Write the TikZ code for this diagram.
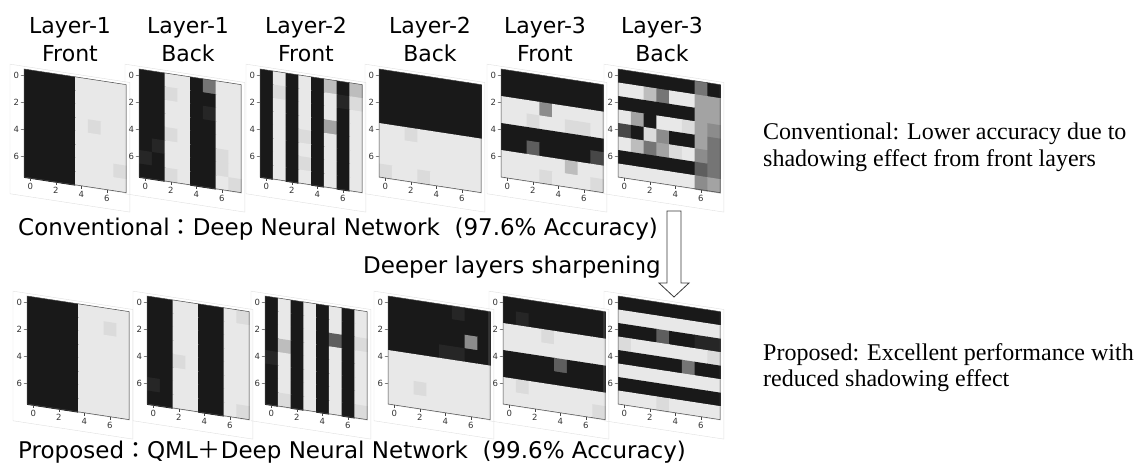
\documentclass[tikz,border=0pt]{standalone}
\usepackage{fontspec}
\setmainfont{Liberation Serif}
\setsansfont{DejaVu Sans}
\newfontfamily\cjk{Noto Sans CJK JP}
\tikzset{
  frame/.style={draw=gray!25,line width=.4pt},
  spine/.style={draw=gray!55!black,line width=.5pt},
  ticklabel/.style={font=\sffamily\fontsize{8.5}{9}\selectfont,text=gray!40!black,inner sep=0pt},
  toplabel/.style={font=\sffamily\fontsize{22}{28}\selectfont,align=center,anchor=north,inner sep=0pt},
  caption/.style={font=\sffamily\fontsize{23}{26}\selectfont,anchor=base west,inner sep=0pt},
  note/.style={font=\rmfamily\fontsize{24}{26.5}\selectfont,align=left,anchor=north west,inner sep=0pt},
  hollow/.style={draw=gray!45!black,fill=white,line width=.8pt,line join=miter}
}
\newcommand{\heatmap}[4]{%
  \begin{scope}[shift={(#2,#3)},x={(12.75pt,-1.95pt)},y={(0pt,-13.5pt)}]
    \draw[frame] (-1.1,-.2) -- (8.3,-.2) -- (8.3,9.4) -- (-1.1,9.4) -- cycle;
    \foreach \r [count=\j from 0] in {#4} {
      \foreach \d [count=\i from 0] in \r {
        \pgfmathtruncatemacro\p{{10,15,28,37,46,55,64,74,86,91}[\d]}
        \fill[white!\p!black] (\i,\j) -- ++(1.06,0) -- ++(0,1.06) -- ++(-1.06,0) -- cycle;
      }
    }
    \draw[spine] (0,0) -- (8,0) -- (8,8) -- (0,8) -- cycle;
    \foreach \t in {0,2,4,6} {
      \draw[spine] (0,\t+.5) -- (-.25,\t+.5) node[ticklabel,left=1.5pt] (#1-y\t) {\t};
      \draw[spine] (\t+.5,8) -- (\t+.5,8.25) node[ticklabel,below=2pt] (#1-x\t) {\t};
    }
  \end{scope}}
\begin{document}
\begin{tikzpicture}[x=1pt,y=-1pt]
\useasboundingbox (0,0) rectangle (1137,466);

\node[toplabel] (t1) at (70,17) {Layer-1\\Front};
\node[toplabel] (t2) at (188,17) {Layer-1\\Back};
\node[toplabel] (t3) at (306,17) {Layer-2\\Front};
\node[toplabel] (t4) at (430,17) {Layer-2\\Back};
\node[toplabel] (t5) at (545,17) {Layer-3\\Front};
\node[toplabel] (t6) at (662,17) {Layer-3\\Back};

% conventional
\heatmap{c1}{24}{69}{{0,0,0,0,9,9,9,9},{0,0,0,0,9,9,9,9},{0,0,0,0,9,9,9,9},{0,0,0,0,9,8,9,9},
  {0,0,0,0,9,9,9,9},{0,0,0,0,9,9,9,9},{0,0,0,0,9,9,9,8},{0,0,0,0,9,9,9,9}}
\heatmap{c2}{139}{69}{{0,0,9,9,0,4,9,9},{0,0,8,9,0,0,9,9},{0,0,9,9,0,1,9,9},{0,0,9,9,0,0,9,9},
  {0,0,8,9,0,0,9,9},{0,1,9,9,0,0,8,9},{1,0,9,9,0,0,8,9},{0,0,8,9,0,0,9,8}}
\heatmap{c3}{260}{69}{{0,9,0,9,0,7,0,7},{0,8,0,9,0,9,1,8},{0,9,0,9,0,9,0,9},{0,9,0,9,0,6,0,9},
  {0,9,0,8,0,9,0,9},{0,9,0,9,0,9,0,9},{0,9,0,8,0,9,0,9},{0,9,0,9,0,9,0,9}}
\heatmap{c4}{379}{69}{{0,0,0,0,0,0,0,0},{0,0,0,0,0,0,0,0},{0,0,0,0,0,0,0,0},{0,0,0,0,0,0,0,0},
  {9,9,8,9,9,9,9,9},{9,9,9,9,9,9,9,9},{9,9,9,9,9,9,9,9},{8,9,9,8,9,9,9,9}}
\heatmap{c5}{501}{69}{{0,0,0,0,0,0,0,0},{0,0,0,0,0,0,0,0},{9,9,9,5,9,9,9,9},{9,9,8,9,9,8,8,9},
  {0,0,0,0,0,0,0,0},{0,0,3,0,0,0,0,2},{9,9,9,9,9,7,9,9},{9,9,9,8,9,9,9,8}}
\heatmap{c6}{618}{69}{{0,0,0,0,0,0,4,0},{9,9,7,4,9,9,6,6},{0,0,0,0,0,0,6,6},{9,6,0,9,9,8,6,5},
  {2,0,8,5,0,0,6,4},{9,7,4,6,8,9,5,4},{0,0,0,0,0,0,3,4},{9,9,9,9,9,9,5,6}}

\node[caption] (conv) at (18,235) {Conventional{\cjk ：}Deep Neural Network\ \ (97.6\% Accuracy)};
\node[caption] (deep) at (363,273) {Deeper layers sharpening};
\draw[hollow] (667,211) -- (681,211) -- (681,283) -- (689,283) -- (674,297) -- (659,283) -- (667,283) -- cycle;

% proposed
\heatmap{p1}{27}{296}{{0,0,0,0,9,9,9,9},{0,0,0,0,9,9,8,9},{0,0,0,0,9,9,9,9},{0,0,0,0,9,9,9,9},
  {0,0,0,0,9,9,9,9},{0,0,0,0,9,9,9,9},{0,0,0,0,9,9,9,9},{0,0,0,0,9,9,9,9}}
\heatmap{p2}{147}{296}{{0,0,9,9,0,0,9,8},{0,0,9,9,0,0,9,9},{0,0,9,9,0,0,9,9},{0,0,9,9,0,0,9,9},
  {0,0,8,9,0,0,9,9},{0,0,9,9,0,0,9,9},{1,0,9,9,0,0,9,9},{0,0,9,9,0,0,9,8}}
\heatmap{p3}{265}{296}{{0,9,0,9,0,9,0,9},{0,9,0,9,0,9,0,9},{0,9,0,9,0,3,0,8},{0,7,0,9,0,9,0,9},
  {1,9,0,9,0,9,0,9},{0,9,0,9,0,9,0,9},{0,9,0,9,0,9,0,9},{0,8,0,9,0,9,0,8}}
\heatmap{p4}{388}{296}{{0,0,0,0,0,1,0,0},{0,0,0,0,0,0,0,0},{0,0,0,0,0,0,5,0},{0,0,0,0,1,1,0,0},
  {9,9,9,9,9,9,9,9},{9,9,9,9,9,9,9,9},{9,9,8,9,9,9,9,9},{9,9,9,9,9,9,9,9}}
\heatmap{p5}{503}{296}{{0,0,0,0,0,0,0,0},{0,1,0,0,0,0,0,0},{9,9,9,8,9,9,9,9},{9,9,9,9,9,9,9,9},
  {0,0,0,0,3,0,0,0},{0,0,0,0,0,0,0,0},{9,8,9,9,9,9,9,9},{9,9,9,9,9,9,9,8}}
\heatmap{p6}{618}{296}{{0,0,0,0,0,0,0,0},{9,9,9,9,9,9,9,9},{0,0,0,3,0,0,1,1},{8,9,9,9,9,9,9,8},
  {0,0,0,0,0,4,0,0},{9,9,9,9,9,9,9,9},{0,0,0,0,0,0,0,0},{9,9,9,8,9,9,9,9}}

\node[caption] (prop) at (18,458) {Proposed{\cjk ：}QML{\cjk ＋}Deep Neural Network\ \ (99.6\% Accuracy)};

\node[note] (nconv) at (763,123) {Conventional: Lower accuracy due to\\shadowing effect from front layers};
\node[note] (nprop) at (763,343) {Proposed: Excellent performance with\\reduced shadowing effect};
\end{tikzpicture}
\end{document}
